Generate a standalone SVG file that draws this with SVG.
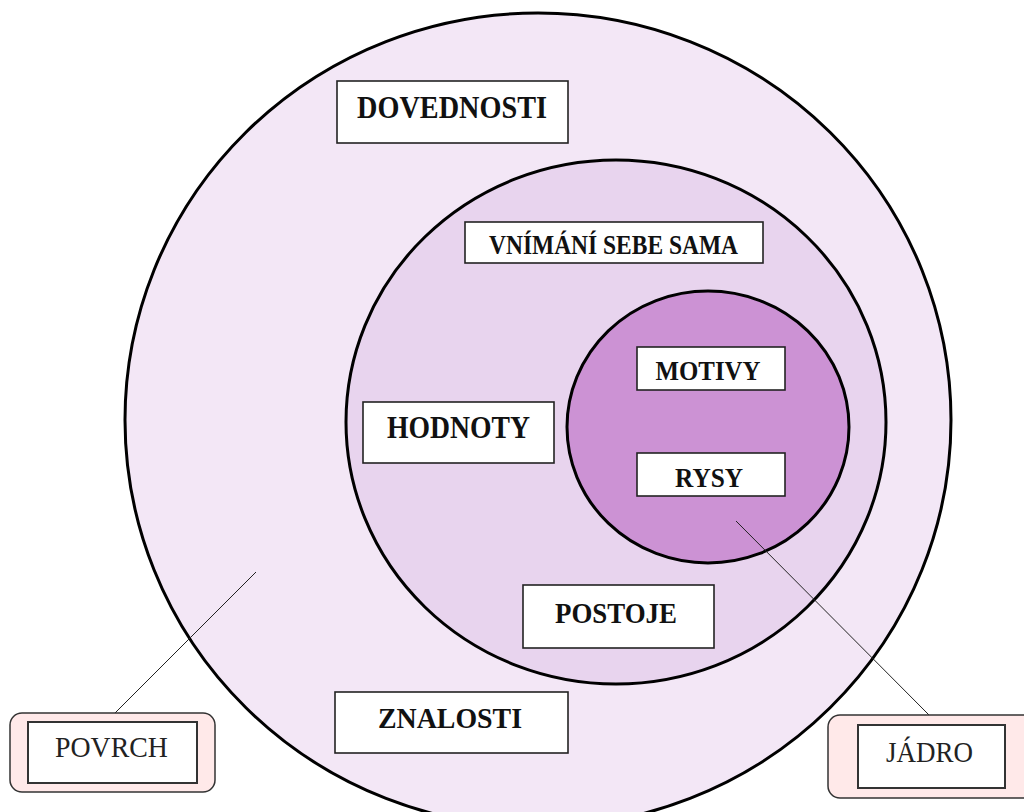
<svg xmlns="http://www.w3.org/2000/svg" width="1024" height="812" viewBox="0 0 1024 812">
<style>
.ring{stroke:#000;stroke-width:3}
.box{fill:#fff;stroke:#222;stroke-width:1.6}
.lbl{font-family:"Liberation Serif","Times New Roman",serif;font-weight:bold;fill:#111;text-anchor:middle}
.tag{fill:#ffe9e9;stroke:#333;stroke-width:1.5}
.tagin{fill:#fff;stroke:#333;stroke-width:2}
.reg{font-family:"Liberation Serif","Times New Roman",serif;fill:#222;text-anchor:middle}
.conn{stroke:#222;stroke-width:1;fill:none}
</style>
<rect width="1024" height="812" fill="#fff"/>
<g id="outer"><ellipse class="ring" cx="538" cy="420" rx="413" ry="407" fill="#f3e7f6"/></g>
<g id="middle"><ellipse class="ring" cx="616" cy="422" rx="270" ry="262" fill="#e8d4ee"/></g>
<g id="inner"><ellipse class="ring" cx="708" cy="427" rx="141" ry="136" fill="#cc92d4"/></g>
<g id="connectors">
<line class="conn" x1="115" y1="713" x2="256" y2="572"/>
<line class="conn" x1="929" y1="715" x2="736" y2="521"/>
</g>
<g id="dovednosti"><rect class="box" x="337" y="81" width="231" height="62"/><text class="lbl" x="452" y="118" font-size="31" textLength="190" lengthAdjust="spacingAndGlyphs">DOVEDNOSTI</text></g>
<g id="vnimani"><rect class="box" x="465" y="222" width="298" height="41"/><text class="lbl" x="613.5" y="254" font-size="27" textLength="249" lengthAdjust="spacingAndGlyphs">VNÍMÁNÍ SEBE SAMA</text></g>
<g id="motivy"><rect class="box" x="637" y="347" width="148" height="43"/><text class="lbl" x="708" y="380" font-size="27" textLength="105" lengthAdjust="spacingAndGlyphs">MOTIVY</text></g>
<g id="rysy"><rect class="box" x="637" y="453" width="148" height="43"/><text class="lbl" x="709" y="487" font-size="27" textLength="68" lengthAdjust="spacingAndGlyphs">RYSY</text></g>
<g id="hodnoty"><rect class="box" x="363" y="402" width="191" height="61"/><text class="lbl" x="458.5" y="438" font-size="31" textLength="143" lengthAdjust="spacingAndGlyphs">HODNOTY</text></g>
<g id="postoje"><rect class="box" x="523" y="585" width="191" height="63"/><text class="lbl" x="616" y="623" font-size="30" textLength="122" lengthAdjust="spacingAndGlyphs">POSTOJE</text></g>
<g id="znalosti"><rect class="box" x="335" y="692" width="233" height="61"/><text class="lbl" x="450" y="728" font-size="30" textLength="144" lengthAdjust="spacingAndGlyphs">ZNALOSTI</text></g>
<g id="povrch"><rect class="tag" x="10" y="713" width="205" height="79" rx="12"/><rect class="tagin" x="28" y="722" width="169" height="61"/><text class="reg" x="111.5" y="757" font-size="29" textLength="113" lengthAdjust="spacingAndGlyphs">POVRCH</text></g>
<g id="jadro"><rect class="tag" x="828" y="715" width="210" height="83" rx="12"/><rect class="tagin" x="858" y="725" width="147" height="63"/><text class="reg" x="929.5" y="762" font-size="29" textLength="87" lengthAdjust="spacingAndGlyphs">JÁDRO</text></g>
</svg>
